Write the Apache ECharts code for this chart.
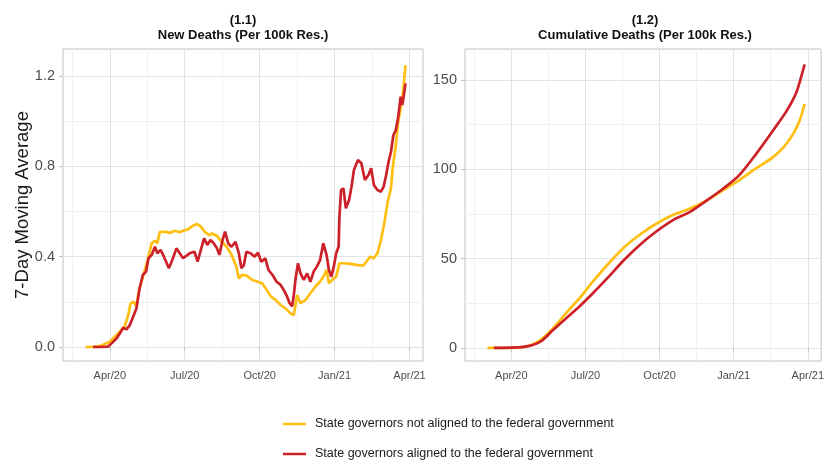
<!DOCTYPE html>
<html><head><meta charset="utf-8">
<script src="https://cdn.jsdelivr.net/npm/echarts@6/dist/echarts.min.js"></script>
<style>html,body{margin:0;padding:0;background:#fff}#c{width:827px;height:461px}</style>
</head><body><div id="c"></div>
<script>
const seriesNames = ['State governors not aligned to the federal government', 'State governors aligned to the federal government'];
const panelTitles = ['(1.1)\nNew Deaths (Per 100k Res.)', '(1.2)\nCumulative Deaths (Per 100k Res.)'];
const yAxisTitle = '7-Day Moving Average';
const xTickLabels = ['Apr/20', 'Jul/20', 'Oct/20', 'Jan/21', 'Apr/21'];
const newTickLabels = ['0.0', '0.4', '0.8', '1.2'];
const cumTickLabels = ['0', '50', '100', '150'];

const newNotAlignedDates = ['2020-03-02','2020-03-10','2020-03-20','2020-04-01','2020-04-07','2020-04-13','2020-04-19','2020-04-23','2020-04-26','2020-04-30','2020-05-03','2020-05-06','2020-05-11','2020-05-15','2020-05-19','2020-05-22','2020-05-26','2020-05-29','2020-06-01','2020-06-09','2020-06-13','2020-06-19','2020-06-25','2020-07-01','2020-07-05','2020-07-09','2020-07-16','2020-07-21','2020-07-26','2020-07-31','2020-08-04','2020-08-10','2020-08-16','2020-08-22','2020-08-28','2020-09-03','2020-09-06','2020-09-10','2020-09-16','2020-09-22','2020-09-28','2020-10-04','2020-10-10','2020-10-15','2020-10-20','2020-10-27','2020-11-02','2020-11-08','2020-11-12','2020-11-16','2020-11-20','2020-11-26','2020-12-02','2020-12-08','2020-12-14','2020-12-18','2020-12-22','2020-12-25','2020-12-31','2021-01-03','2021-01-07','2021-01-13','2021-01-21','2021-01-30','2021-02-05','2021-02-13','2021-02-17','2021-02-21','2021-02-25','2021-03-01','2021-03-05','2021-03-09','2021-03-11','2021-03-15','2021-03-18','2021-03-21','2021-03-24','2021-03-27'];
const newNotAligned = [0,0,0.005,0.023,0.046,0.068,0.093,0.14,0.195,0.2,0.18,0.25,0.31,0.36,0.415,0.46,0.47,0.46,0.51,0.51,0.505,0.515,0.508,0.518,0.52,0.533,0.545,0.533,0.51,0.496,0.503,0.492,0.466,0.444,0.41,0.356,0.304,0.32,0.315,0.297,0.29,0.282,0.252,0.223,0.211,0.186,0.171,0.149,0.142,0.23,0.194,0.208,0.238,0.267,0.29,0.311,0.341,0.282,0.304,0.311,0.371,0.371,0.368,0.363,0.36,0.4,0.393,0.415,0.474,0.555,0.644,0.703,0.79,0.895,0.998,1.057,1.131,1.249];

const newAlignedDates = ['2020-03-11','2020-03-20','2020-03-30','2020-04-03','2020-04-09','2020-04-13','2020-04-17','2020-04-21','2020-04-25','2020-04-29','2020-05-03','2020-05-07','2020-05-11','2020-05-15','2020-05-18','2020-05-22','2020-05-26','2020-05-29','2020-06-02','2020-06-06','2020-06-12','2020-06-16','2020-06-21','2020-06-25','2020-06-29','2020-07-01','2020-07-07','2020-07-13','2020-07-17','2020-07-21','2020-07-25','2020-07-29','2020-08-02','2020-08-06','2020-08-10','2020-08-13','2020-08-17','2020-08-20','2020-08-24','2020-08-28','2020-09-02','2020-09-06','2020-09-09','2020-09-12','2020-09-15','2020-09-20','2020-09-25','2020-09-29','2020-10-03','2020-10-08','2020-10-12','2020-10-17','2020-10-22','2020-10-27','2020-10-31','2020-11-04','2020-11-07','2020-11-10','2020-11-12','2020-11-14','2020-11-17','2020-11-20','2020-11-24','2020-11-28','2020-12-02','2020-12-06','2020-12-10','2020-12-14','2020-12-18','2020-12-22','2020-12-25','2020-12-28','2020-12-31','2021-01-03','2021-01-06','2021-01-07','2021-01-09','2021-01-12','2021-01-15','2021-01-19','2021-01-22','2021-01-25','2021-01-30','2021-02-03','2021-02-07','2021-02-11','2021-02-14','2021-02-17','2021-02-21','2021-02-25','2021-02-28','2021-03-03','2021-03-06','2021-03-09','2021-03-12','2021-03-15','2021-03-18','2021-03-21','2021-03-23','2021-03-25','2021-03-27'];
const newAligned = [0,0,0.002,0.016,0.038,0.06,0.085,0.078,0.097,0.134,0.171,0.26,0.319,0.334,0.393,0.408,0.444,0.415,0.43,0.4,0.349,0.385,0.437,0.415,0.393,0.4,0.415,0.422,0.378,0.43,0.481,0.452,0.474,0.459,0.437,0.408,0.474,0.511,0.459,0.444,0.466,0.415,0.349,0.363,0.422,0.415,0.4,0.418,0.378,0.393,0.341,0.319,0.289,0.275,0.252,0.223,0.194,0.18,0.23,0.3,0.371,0.326,0.297,0.326,0.289,0.334,0.356,0.385,0.459,0.408,0.341,0.311,0.356,0.415,0.444,0.577,0.695,0.703,0.614,0.651,0.71,0.784,0.828,0.814,0.74,0.762,0.792,0.718,0.695,0.688,0.71,0.762,0.821,0.865,0.939,0.961,1.02,1.109,1.072,1.116,1.168];

const cumNotAlignedDates = ['2020-03-02','2020-04-01','2020-04-20','2020-05-06','2020-05-22','2020-06-07','2020-06-24','2020-07-10','2020-07-30','2020-08-19','2020-09-09','2020-09-29','2020-10-19','2020-11-08','2020-11-29','2020-12-19','2021-01-08','2021-01-29','2021-02-18','2021-03-02','2021-03-14','2021-03-22','2021-03-28'];
const cumNotAligned = [0,0.1,0.9,4.3,10.8,19.2,28,37,47.3,56.6,64.1,70.1,74.7,78.1,82.8,88.4,94,100.5,107,112.6,120.1,127.6,136.6];

const cumAlignedDates = ['2020-03-10','2020-04-16','2020-05-06','2020-05-22','2020-06-07','2020-06-24','2020-07-10','2020-07-30','2020-08-19','2020-09-09','2020-09-29','2020-10-19','2020-11-08','2020-11-29','2020-12-19','2021-01-08','2021-01-29','2021-02-18','2021-03-06','2021-03-18','2021-03-28'];
const cumAligned = [0,0.6,3.4,9.9,16.4,23.4,30.5,39.8,49.5,58.5,65.9,71.9,76.2,82.8,89.3,96.8,108.5,122,133.2,143.5,158.8];

const YEL = '#FFBE12', RED = '#CC2128';
const FONT = '"Liberation Sans", Arial, sans-serif';

// convert a date to quarter units from 2020-01-01 (so that quarter starts fall on integers)
function toQ(s) {
  const p = s.split('-').map(Number);
  const dim = new Date(p[0], p[1], 0).getDate();
  return ((p[0] - 2020) * 12 + (p[1] - 1) + (p[2] - 1) / dim) / 3;
}
function pairs(dates, vals) {
  const n = Math.min(dates.length, vals.length);
  const out = [];
  for (let i = 0; i < n; i++) out.push([toQ(dates[i]), vals[i]]);
  return out;
}
function lookupFmt(step, labels) {
  return function (v) {
    const k = Math.round(v / step);
    if (Math.abs(v - k * step) < 1e-6 && k >= 0 && k < labels.length) return labels[k];
    return '';
  };
}
const xFmt = function (v) {
  const k = Math.round(v);
  if (Math.abs(v - k) < 1e-6 && k >= 1 && k <= xTickLabels.length) return xTickLabels[k - 1];
  return '';
};

const BORDER = '#c2c2c2', MAJOR = '#e3e3e3', MINOR = '#f1f1f1';

function xAxis(gi) {
  return {
    type: 'value', gridIndex: gi, min: 0.375, max: 5.18, minInterval: 1, maxInterval: 1,
    axisLine: { show: false },
    axisTick: { show: true, length: 4, lineStyle: { color: BORDER, width: 1 }, customValues: [1, 2, 3, 4, 5] },
    axisLabel: { fontSize: 11, color: '#4d4d4d', margin: 9, fontFamily: FONT, formatter: xFmt, showMinLabel: false, showMaxLabel: false },
    splitLine: { show: true, lineStyle: { color: MAJOR, width: 1 } },
    minorTick: { show: false, splitNumber: 2 },
    minorSplitLine: { show: true, lineStyle: { color: MINOR, width: 1 } }
  };
}
function yAxis(gi, min, max, step, labels) {
  return {
    type: 'value', gridIndex: gi, min: min, max: max, minInterval: step, maxInterval: step,
    axisLine: { show: false },
    axisTick: { show: true, length: 4, lineStyle: { color: BORDER, width: 1 }, customValues: labels.map((l, i) => i * step) },
    axisLabel: { fontSize: 14.5, color: '#4d4d4d', margin: 8, fontFamily: FONT, formatter: lookupFmt(step, labels), showMinLabel: false, showMaxLabel: false },
    splitLine: { show: true, lineStyle: { color: MAJOR, width: 1 } },
    minorTick: { show: false, splitNumber: 2 },
    minorSplitLine: { show: true, lineStyle: { color: MINOR, width: 1 } }
  };
}
function line(name, gi, data, color, smooth) {
  return {
    type: 'line', name: name, xAxisIndex: gi, yAxisIndex: gi, data: data,
    showSymbol: false, symbol: 'none', smooth: smooth || false,
    lineStyle: { width: 2.7, color: color }, itemStyle: { color: color }
  };
}
function legend(top, name) {
  return {
    orient: 'vertical', left: 278, top: top, itemWidth: 23, itemHeight: 2.5, icon: 'rect', itemGap: 16,
    textStyle: { fontSize: 12.5, color: '#1a1a1a', lineHeight: 14, fontFamily: FONT, padding: [0, 0, 0, 4] },
    data: [name]
  };
}

const chart = echarts.init(document.getElementById('c'), null, { renderer: 'canvas' });
chart.setOption({
  animation: false,
  backgroundColor: '#ffffff',
  textStyle: { fontFamily: FONT },
  grid: [
    { left: 63, top: 49, width: 360, height: 312, show: true, borderColor: BORDER, borderWidth: 1, backgroundColor: 'transparent' },
    { left: 465, top: 49, width: 360, height: 312, show: true, borderColor: BORDER, borderWidth: 1, backgroundColor: 'transparent' }
  ],
  xAxis: [xAxis(0), xAxis(1)],
  yAxis: [yAxis(0, -0.062, 1.32, 0.4, newTickLabels), yAxis(1, -7.3, 167.4, 50, cumTickLabels)],
  legend: [legend(412, seriesNames[0]), legend(442, seriesNames[1])],
  graphic: [
    { type: 'text', x: 243, y: 13, style: { text: panelTitles[0], textAlign: 'center', textVerticalAlign: 'top', fontSize: 13, fontWeight: 'bold', lineHeight: 15, fontFamily: FONT, fill: '#111' } },
    { type: 'text', x: 645, y: 13, style: { text: panelTitles[1], textAlign: 'center', textVerticalAlign: 'top', fontSize: 13, fontWeight: 'bold', lineHeight: 15, fontFamily: FONT, fill: '#111' } },
    { type: 'text', x: 23, y: 205, rotation: Math.PI / 2, style: { text: yAxisTitle, textAlign: 'center', textVerticalAlign: 'middle', fontSize: 18.5, fontFamily: FONT, fill: '#1a1a1a' } }
  ],
  series: [
    line(seriesNames[0], 0, pairs(newNotAlignedDates, newNotAligned), YEL),
    line(seriesNames[1], 0, pairs(newAlignedDates, newAligned), RED),
    line(seriesNames[0], 1, pairs(cumNotAlignedDates, cumNotAligned), YEL, 0.3),
    line(seriesNames[1], 1, pairs(cumAlignedDates, cumAligned), RED, 0.3)
  ]
});
</script></body></html>
